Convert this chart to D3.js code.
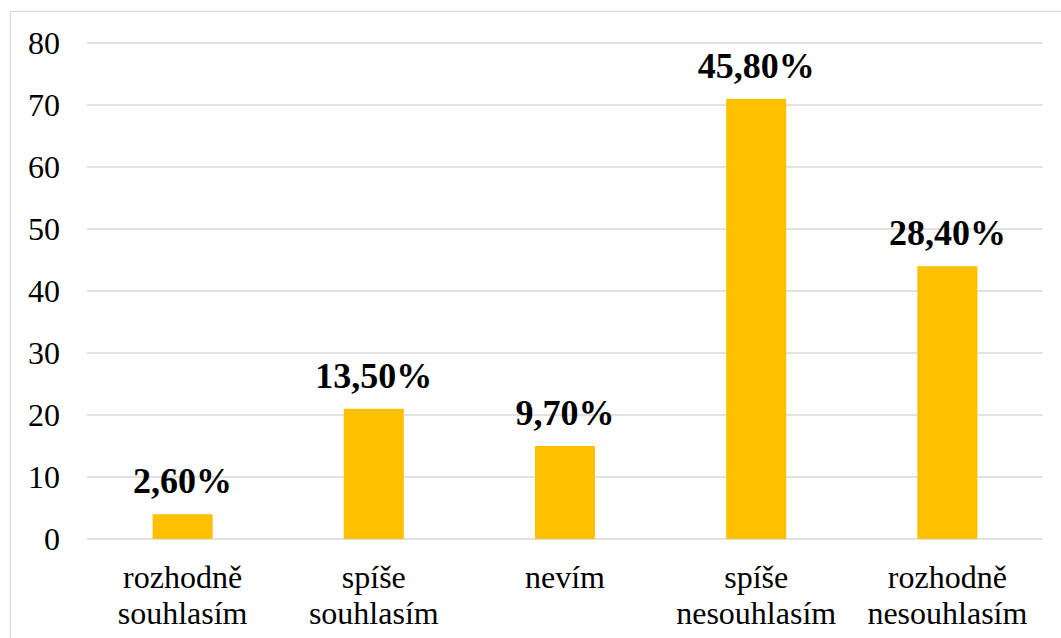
<!DOCTYPE html>
<html>
<head>
<meta charset="utf-8">
<script src="https://cdn.jsdelivr.net/npm/d3@7"></script>
</head>
<body style="margin:0">
<svg id="chart" width="1061" height="638" style="font-family:'Liberation Serif'"></svg>
<script>
const categories = [["rozhodně","souhlasím"],["spíše","souhlasím"],["nevím"],["spíše","nesouhlasím"],["rozhodně","nesouhlasím"]];
const values = [4, 21, 15, 71, 44];
const percentLabels = ["2,60%","13,50%","9,70%","45,80%","28,40%"];
const yTicks = [0,10,20,30,40,50,60,70,80];

const svg = d3.select("#chart");
const chartW = 1061, chartH = 638;
const pLeft = 87, pRight = 1043, pTop = 43, pBottom = 539;
const FONT = '"Liberation Serif"';

svg.append("rect").attr("x",10.5).attr("y",11.5).attr("width",chartW).attr("height",chartH)
  .attr("fill","#fff").attr("stroke","#d9d9d9").attr("stroke-width",1.3);

const keys = categories.map((c,i)=>i);
const x = d3.scaleBand().domain(keys).range([pLeft,pRight]).paddingInner(0.686).paddingOuter(0.343);
const y = d3.scaleLinear().domain([0,80]).range([pBottom,pTop]);

svg.append("g").selectAll("line").data(yTicks).join("line")
  .attr("x1",pLeft).attr("x2",pRight)
  .attr("y1",d=>y(d)).attr("y2",d=>y(d))
  .attr("stroke","#d9d9d9").attr("stroke-width",1.3);

// y tick labels via axis scale
svg.append("g").selectAll("text").data(yTicks).join("text")
  .attr("x",pLeft-27).attr("y",d=>y(d)).attr("dy","0.34em")
  .attr("text-anchor","end")
  .style("font-family",FONT).attr("font-size",32).attr("fill","#000")
  .text(d=>y.tickFormat()(d));

svg.append("g").selectAll("rect").data(values).join("rect")
  .attr("x",(d,i)=>x(i)).attr("width",x.bandwidth())
  .attr("y",d=>y(d)).attr("height",d=>y(0)-y(d))
  .attr("fill","#FFC000");

svg.append("g").selectAll("text").data(values).join("text")
  .attr("x",(d,i)=>x(i)+x.bandwidth()/2).attr("y",d=>y(d)-21)
  .attr("text-anchor","middle")
  .style("font-family",FONT).attr("font-weight","bold").attr("font-size",36)
  .attr("fill","#000")
  .text((d,i)=>percentLabels[i]);

categories.forEach((d,i)=>{
  d.forEach((line,j)=>{
    svg.append("text")
      .attr("x",x(i)+x.bandwidth()/2).attr("y",588+36*j)
      .attr("text-anchor","middle")
      .style("font-family",FONT).attr("font-size",32).attr("fill","#000")
      .text(line);
  });
});
</script>
</body>
</html>
